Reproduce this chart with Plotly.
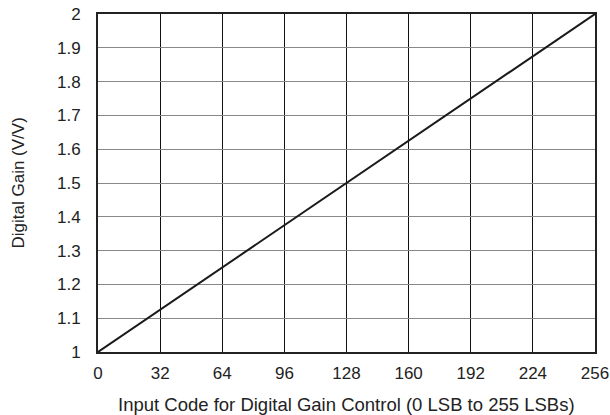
import plotly.graph_objects as go

codes = [0, 256]
gain = [1.0, 2.0]
x_ticks = [0, 32, 64, 96, 128, 160, 192, 224, 256]
y_ticks = [1, 1.1, 1.2, 1.3, 1.4, 1.5, 1.6, 1.7, 1.8, 1.9, 2]
y_labels = ["1", "1.1", "1.2", "1.3", "1.4", "1.5", "1.6", "1.7", "1.8", "1.9", "2"]

fig = go.Figure()
fig.add_trace(go.Scatter(x=codes, y=gain, mode="lines",
                         line=dict(color="#1a1a1a", width=2), showlegend=False))

font = dict(family="Liberation Sans, Arial, sans-serif", size=17, color="#222")
fig.update_layout(
    width=610, height=415,
    margin=dict(l=98, r=15, t=14, b=63, autoexpand=False),
    paper_bgcolor="white", plot_bgcolor="white",
    font=font,
    xaxis=dict(range=[0, 256], tickvals=x_ticks, ticktext=[str(v) for v in x_ticks],
               showgrid=True, gridcolor="#111", gridwidth=1,
               showline=True, linecolor="#222", linewidth=2, mirror=True,
               ticks="", zeroline=False, automargin=False, ticklabelstandoff=5),
    yaxis=dict(range=[1, 2], tickvals=y_ticks, ticktext=y_labels,
               showgrid=True, gridcolor="#888", gridwidth=1,
               showline=True, linecolor="#222", linewidth=2, mirror=True,
               ticks="", zeroline=False, automargin=False, ticklabelstandoff=12),
    annotations=[
        dict(text="Input Code for Digital Gain Control (0 LSB to 255 LSBs)",
             xref="paper", yref="paper", x=0.5, y=-0.117, xanchor="center", yanchor="top",
             showarrow=False, font=dict(size=18.5)),
        dict(text="Digital Gain (V/V)", xref="paper", yref="paper", x=-0.16, y=0.5,
             xanchor="center", yanchor="middle", textangle=-90,
             showarrow=False, font=dict(size=17)),
    ],
)
fig.write_html("out.html", config={"displayModeBar": False},
               post_script="document.body.style.margin='0';")
